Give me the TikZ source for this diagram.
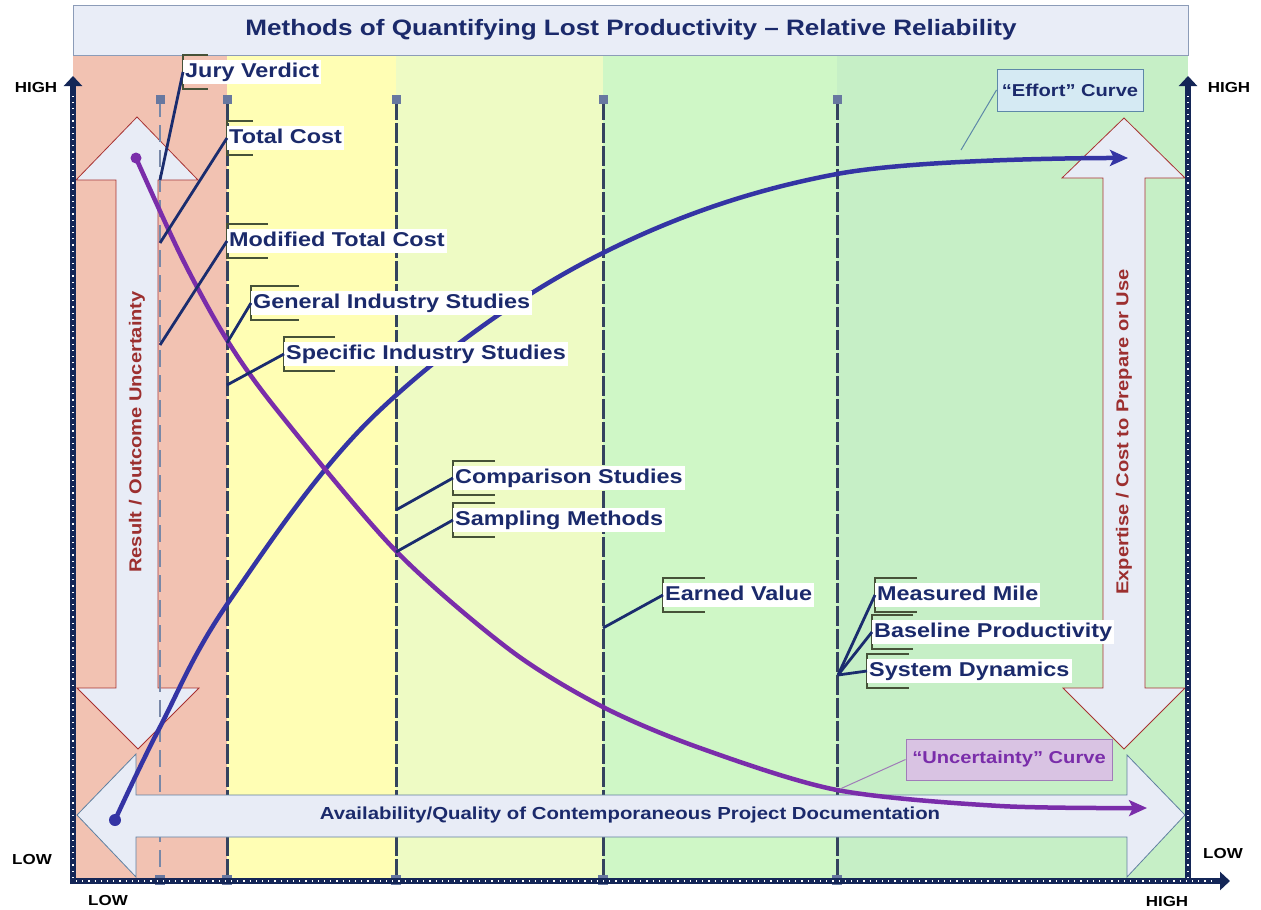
\documentclass[tikz,border=0pt]{standalone}
\usepackage{fontspec}
\setmainfont{Liberation Sans}[FakeStretch=1.17]
\usetikzlibrary{arrows.meta}
\definecolor{navy}{HTML}{1B2A6B}
\definecolor{connavy}{HTML}{1A2C6E}
\definecolor{axisnavy}{HTML}{142657}
\definecolor{bandA}{HTML}{F2C2B2}
\definecolor{bandB}{HTML}{FFFEB4}
\definecolor{bandC}{HTML}{EEFBC4}
\definecolor{bandD}{HTML}{CFF7C6}
\definecolor{bandE}{HTML}{C6EFC6}
\definecolor{arrowfill}{HTML}{E8ECF6}
\definecolor{arrowred}{HTML}{A83232}
\definecolor{harrowline}{HTML}{6080A0}
\definecolor{titlefill}{HTML}{E9EDF7}
\definecolor{titleline}{HTML}{8C9CB8}
\definecolor{effortblue}{HTML}{3434A4}
\definecolor{uncpurple}{HTML}{7A2DAA}
\definecolor{redtext}{HTML}{9C2F2F}
\definecolor{vlinecol}{HTML}{34435F}
\definecolor{vlinelight}{HTML}{7888A8}
\definecolor{sqcol}{HTML}{6878A0}
\definecolor{brkcol}{HTML}{465238}
\definecolor{effortfill}{HTML}{D5EAF3}
\definecolor{effortline}{HTML}{5E88A8}
\definecolor{uncfill}{HTML}{D9C3E3}
\definecolor{uncline}{HTML}{A07CB8}
\newcommand\methodlabel[5]{%
  \draw[brk] (#2+#4,#3-17) -- (#2,#3-17) -- (#2,#3+17) -- (#2+#4,#3+17);
  \node[lbl] (#1) at (#2,#3) {#5};}
\begin{document}
\begin{tikzpicture}[x=1pt,y=-1pt,
  lbl/.style={fill=white, text=navy, font=\fontsize{20}{22}\selectfont\bfseries,
    inner xsep=2pt, inner ysep=2pt, text height=15pt, text depth=4.5pt, anchor=west},
  brk/.style={draw=brkcol, line width=1.4pt},
  conn/.style={draw=connavy, line width=2.8pt},
  axisline/.style={draw=axisnavy, line width=6pt, -{Triangle[length=10pt,width=18pt]}},
  axishatch/.style={draw=white, line width=1.6pt, dash pattern=on 1.2pt off 5pt},
  vline/.style={draw=vlinecol, line width=3pt, dash pattern=on 20pt off 3pt},
  vlinel/.style={draw=vlinelight, line width=2.8pt, dash pattern=on 17pt off 8pt},
  sq/.style={fill=sqcol},
  bigarrow/.style={fill=arrowfill, draw=arrowred, line width=0.8pt},
  harrow/.style={fill=arrowfill, draw=harrowline, line width=0.8pt},
  sidetext/.style={text=redtext, font=\fontsize{17.2}{20}\selectfont\bfseries},
  axlabel/.style={text=black, font=\fontsize{14.5}{16}\selectfont\bfseries},
  curvewidth/.style={line width=4.5pt, line cap=round}
]
\useasboundingbox (0,0) rectangle (1261,910);
\fill[white] (0,0) rectangle (1261,910);

% bands
\fill[bandA] (73,55) rectangle (227,881);
\fill[bandB] (227,55) rectangle (396,881);
\fill[bandC] (396,55) rectangle (603,881);
\fill[bandD] (603,55) rectangle (837,881);
\fill[bandE] (837,55) rectangle (1188,881);

% title
\draw[fill=titlefill, draw=titleline, line width=1pt] (73,5) rectangle (1188,55);
\node[text=navy, font=\fontsize{22.3}{26}\selectfont\bfseries] (title) at (631,30)
  {Methods of Quantifying Lost Productivity – Relative Reliability};

% vertical double arrows
\draw[bigarrow] (137,117) -- (198,180) -- (158,180) -- (158,688) -- (199,688) -- (138,749)
  -- (77,688) -- (116,688) -- (116,180) -- (76,180) -- cycle;
\draw[bigarrow] (1124,118) -- (1185,178) -- (1145,178) -- (1145,688) -- (1185,688) -- (1124,749)
  -- (1063,688) -- (1103,688) -- (1103,178) -- (1062,178) -- cycle;
\node[sidetext, rotate=90] (resunc) at (137,432) {Result / Outcome Uncertainty};
\node[sidetext, rotate=90] (expcost) at (1124,432) {Expertise / Cost to Prepare or Use};

% dashed vertical lines
\draw[vlinel] (160,100) -- (160,881);
\foreach \x in {227,396,603,837} { \draw[vline] (\x,100) -- (\x,881); }
\foreach \x in {160,227,396,603,837} {
  \fill[sq] (\x-4.5,94.5) rectangle (\x+4.5,103.5);
  \fill[sq] (\x-5,875) rectangle (\x+5,885);
}

% horizontal double arrow
\draw[harrow] (77,815) -- (136,754) -- (136,795) -- (1127,795) -- (1127,755) -- (1185,815)
  -- (1127,877) -- (1127,837) -- (136,837) -- (136,877) -- cycle;
\node[text=navy, font=\fontsize{17.4}{20}\selectfont\bfseries] (avail) at (630,815)
  {Availability/Quality of Contemporaneous Project Documentation};

% axes
\draw[axisline] (73,884) -- (73,76);
\draw[axishatch] (73,878) -- (73,94);
\draw[axisline] (1188,884) -- (1188,76);
\draw[axishatch] (1188,878) -- (1188,94);
\draw[axisline] (70,881) -- (1230,881);
\draw[axishatch] (76,881) -- (1212,881);

% axis labels
\node[axlabel] (lhigh) at (36,88) {HIGH};
\node[axlabel] (llow) at (32,859) {LOW};
\node[axlabel] (blow) at (108,900) {LOW};
\node[axlabel] (bhigh) at (1167,901) {HIGH};
\node[axlabel] (rhigh) at (1229,88) {HIGH};
\node[axlabel] (rlow) at (1223,853) {LOW};

% curves
\coordinate (es) at (115,820);
\coordinate (ee) at (1128,158);
\draw[effortblue, curvewidth, -{Stealth[length=18pt,width=16pt,inset=4pt]}]
  plot[smooth, tension=0.6] coordinates {(es) (160,727) (230,600) (380,410)
  (593,258) (837,174) (ee)};
\fill[effortblue] (es) circle (6pt);

\coordinate (us) at (136,158);
\coordinate (ue) at (1147,808);
\draw[uncpurple, curvewidth, -{Stealth[length=18pt,width=16pt,inset=4pt]}]
  plot[smooth, tension=0.5] coordinates {(us) (182,258) (227,340) (277,410)
  (395,550) (510,650) (603,707) (700,748) (837,790) (1000,806) (ue)};
\fill[uncpurple] (us) circle (5.5pt);

% curve callouts
\node[fill=effortfill, draw=effortline, line width=1pt, text=navy,
  font=\fontsize{17.2}{20}\selectfont\bfseries, minimum width=146pt, minimum height=42pt,
  inner sep=0pt] (effort) at (1070,90) {“Effort” Curve};
\coordinate (effpt) at (961,150);
\draw[effortline, line width=1pt] (effort.west) -- (effpt);
\node[fill=uncfill, draw=uncline, line width=1pt, text=uncpurple,
  font=\fontsize{17.2}{20}\selectfont\bfseries, minimum width=206pt, minimum height=41pt,
  inner sep=0pt] (unc) at (1009,759.5) {“Uncertainty” Curve};
\coordinate (uncpt) at (840,789);
\draw[uncline, line width=1pt] (unc.west) -- (uncpt);

% method labels
\coordinate (t1) at (160,180);
\coordinate (t2) at (160,243);
\coordinate (t3) at (160,345);
\coordinate (t4) at (227,343);
\coordinate (t5) at (227,385);
\coordinate (t6) at (396,510);
\coordinate (t7) at (396,552);
\coordinate (t8) at (603,628);
\coordinate (t9) at (838,675);

\methodlabel{jv}{183}{72}{25}{Jury Verdict}
\methodlabel{tc}{227}{138}{26}{Total Cost}
\methodlabel{mtc}{227}{241}{41}{Modified Total Cost}
\methodlabel{gis}{251}{303}{48}{General Industry Studies}
\methodlabel{sis}{284}{354}{51}{Specific Industry Studies}
\methodlabel{cs}{453}{478}{42}{Comparison Studies}
\methodlabel{sm}{453}{520}{42}{Sampling Methods}
\methodlabel{ev}{663}{595}{42}{Earned Value}
\methodlabel{mm}{875}{595}{42}{Measured Mile}
\methodlabel{bp}{872}{632}{41}{Baseline Productivity}
\methodlabel{sd}{867}{671}{42}{System Dynamics}

\draw[conn] (jv.west) -- (t1);
\draw[conn] (tc.west) -- (t2);
\draw[conn] (mtc.west) -- (t3);
\draw[conn] (gis.west) -- (t4);
\draw[conn] (sis.west) -- (t5);
\draw[conn] (cs.west) -- (t6);
\draw[conn] (sm.west) -- (t7);
\draw[conn] (ev.west) -- (t8);
\draw[conn] (mm.west) -- (t9);
\draw[conn] (bp.west) -- (t9);
\draw[conn] (sd.west) -- (t9);
\end{tikzpicture}
\end{document}
